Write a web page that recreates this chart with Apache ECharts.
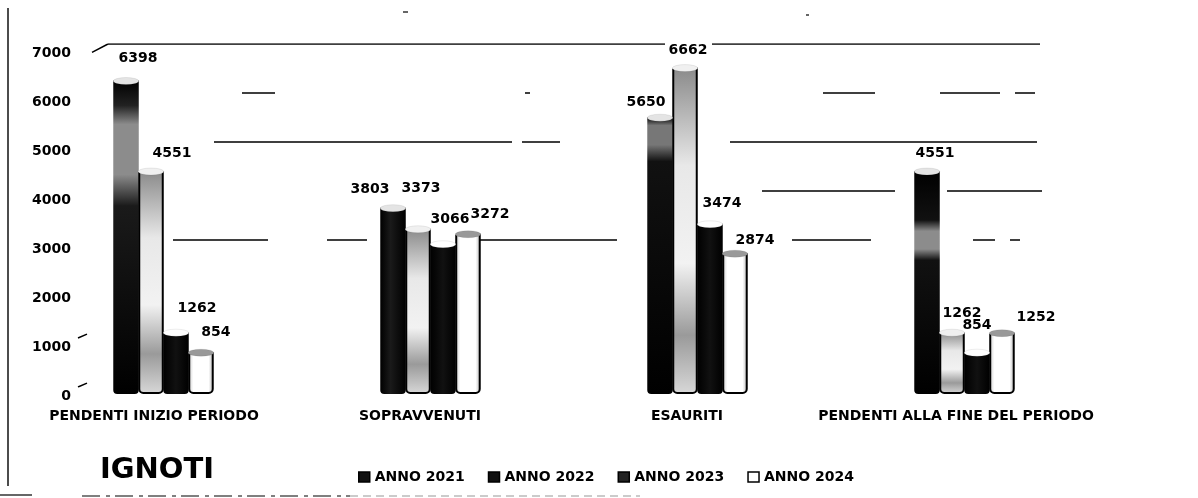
<!DOCTYPE html>
<html><head><meta charset="utf-8">
<style>html,body{margin:0;padding:0;background:#fff}#c{width:1198px;height:498px}</style>
<script src="https://cdn.jsdelivr.net/npm/echarts@6/dist/echarts.min.js"></script>
</head><body><div id="c"></div>
<script>
const categories = ['PENDENTI INIZIO PERIODO','SOPRAVVENUTI','ESAURITI','PENDENTI ALLA FINE DEL PERIODO'];
const seriesNames = ['ANNO 2021','ANNO 2022','ANNO 2023','ANNO 2024'];
const anno2021 = [6398,3803,5650,4551];
const anno2022 = [4551,3373,6662,1262];
const anno2023 = [1262,3066,3474,854];
const anno2024 = [854,3272,2874,1252];
const seriesValues = [anno2021,anno2022,anno2023,anno2024];
const yTicks = [0,1000,2000,3000,4000,5000,6000,7000];

// label nudges per series, per category [dx,dy]
const labelNudges = [
  [[12,-10],[-23,-6],[-14,-3],[8,-6]],
  [[21,-6],[3,-28],[3,-5],[10,-7]],
  [[21,-12],[7,-12],[12,-8],[0,-15]],
  [[15,-8],[22,-7],[20,-1],[34,-3]]
];
const catPad = [19,21,21,17];
// broken wall gridlines: [value, from, to] (second, hidden axis pair)
const wallBits = [
  [7000,108,665],[7000,712,1040],
  [6000,242,275],[6000,525,530],[6000,823,875],[6000,940,1000],[6000,1015,1035],
  [5000,214,512],[5000,522,560],[5000,730,1037],
  [4000,762,895],[4000,947,1042],
  [3000,173,268],[3000,327,367],[3000,480,617],[3000,792,871],[3000,973,995],[3000,1010,1020]
];
const wallDiag = [[92,6830,108,7000],[78,1000,87,1080],[78,0,87,80]];

const wallData = [];
wallBits.forEach(b=>{wallData.push([b[1],b[0]],[b[2],b[0]],[b[2],'-']);});
wallDiag.forEach(d=>{wallData.push([d[0],d[1]],[d[2],d[3]],[d[2],'-']);});

const G = (stops,x2,y2)=>new echarts.graphic.LinearGradient(0,0,x2,y2,stops.map(c=>({offset:c[0],color:c[1]})));
const fills = [
  G([[0,'#000'],[0.4,'#1a1a1a'],[1,'#000']],1,0),
  G([[0,'#8a8a8a'],[0.3,'#e8e8e8'],[0.6,'#f2f2f2'],[0.82,'#9a9a9a'],[1,'#d8d8d8']],0,1),
  G([[0,'#000'],[0.5,'#111'],[1,'#000']],1,0),
  G([[0,'#c8c8c8'],[0.2,'#fff'],[0.8,'#fff'],[1,'#b0b0b0']],1,0)
];
const patches2021 = {
  0:G([[0,'#000'],[0.08,'#222'],[0.14,'#8c8c8c'],[0.3,'#8c8c8c'],[0.4,'#1a1a1a'],[1,'#000']],0,1),
  2:G([[0,'#000'],[0.03,'#777'],[0.1,'#777'],[0.16,'#111'],[1,'#000']],0,1),
  3:G([[0,'#000'],[0.22,'#111'],[0.27,'#8c8c8c'],[0.35,'#8c8c8c'],[0.4,'#111'],[1,'#000']],0,1)
};
const capFill = ['#e4e4e4','#f0f0f0','#fff','#999'];
const legendColor = ['#111','#111','#222','#fff'];

const series = [];
seriesNames.forEach((name,s)=>{
  series.push({
    name,type:'bar',barWidth:25.5,barGap:'-2%',z:3,
    data:seriesValues[s].map((v,c)=>({
      value:v,
      itemStyle:(s===0&&patches2021[c])?{color:patches2021[c]}:undefined,
      label:{offset:labelNudges[s][c]}
    })),
    itemStyle:{color:fills[s],borderColor:'#000',borderWidth:s===1||s===3?2:0,borderRadius:[0,0,4,4]},
    label:{show:true,position:'top',distance:5,color:'#000',fontFamily:'DejaVu Sans',fontWeight:'bold',fontSize:14}
  });
  series.push({
    name,type:'pictorialBar',symbol:'circle',symbolSize:[25.5,7],symbolPosition:'end',symbolOffset:[0,'-50%'],
    barWidth:25.5,barGap:'-2%',z:4,silent:true,
    data:seriesValues[s],
    itemStyle:{color:capFill[s],borderColor:'#000',borderWidth:2}
  });
});
series.push({
  type:'line',xAxisIndex:1,yAxisIndex:1,data:wallData,symbol:'none',silent:true,z:1,connectNulls:false,
  lineStyle:{color:'#000',width:1.5},itemStyle:{color:'#000'}
});

const chart = echarts.init(document.getElementById('c'),null,{renderer:'canvas'});
chart.setOption({
  animation:false,backgroundColor:'#fff',
  title:{text:'IGNOTI',left:95,top:451,textStyle:{fontFamily:'DejaVu Sans',fontWeight:'bold',fontSize:29,color:'#000'}},
  legend:{data:seriesNames.map((n,i)=>({name:n,itemStyle:{color:legendColor[i],borderColor:'#000',borderWidth:1.5}})),
    left:353,top:465,itemWidth:11,itemHeight:10,itemGap:23,icon:'rect',
    textStyle:{fontFamily:'DejaVu Sans',fontWeight:'bold',fontSize:14,color:'#000'}},
  grid:[{left:30,width:1068,top:51,height:343},{left:0,width:1198,top:44,height:343}],
  xAxis:[
    {type:'category',gridIndex:0,data:categories,axisLine:{show:false},axisTick:{show:false},
      axisLabel:{margin:15,interval:0,
        formatter:(v,i)=>'{c'+i+'|'+v+'}',
        rich:Object.fromEntries(catPad.map((p,i)=>['c'+i,{fontFamily:'DejaVu Sans',fontWeight:'bold',fontSize:14,color:'#000',padding:[0,p,0,0]}]))}},
    {type:'value',gridIndex:1,min:0,max:1198,show:false}
  ],
  yAxis:[
    {type:'value',gridIndex:0,min:yTicks[0],max:yTicks[yTicks.length-1],interval:1000,
      axisLine:{show:false},axisTick:{show:false},splitLine:{show:false},
      axisLabel:{margin:-41,formatter:v=>String(v),fontFamily:'DejaVu Sans',fontWeight:'bold',fontSize:14,color:'#000',verticalAlign:'top',lineHeight:4}},
    {type:'value',gridIndex:1,min:0,max:7000,show:false}
  ],
  series,
  graphic:[
    {type:'line',shape:{x1:8,y1:8,x2:8,y2:486},style:{stroke:'#111',lineWidth:1.5}},
    {type:'line',shape:{x1:0,y1:495,x2:32,y2:495},style:{stroke:'#333',lineWidth:1.5}},
    {type:'line',shape:{x1:82,y1:496,x2:350,y2:496},style:{stroke:'#555',lineWidth:1.5,lineDash:[18,6,4,5]}},
    {type:'line',shape:{x1:350,y1:496,x2:640,y2:496},style:{stroke:'#bbb',lineWidth:1.5,lineDash:[8,5]}},
    {type:'line',shape:{x1:403,y1:12,x2:408,y2:12},style:{stroke:'#333',lineWidth:1.5}},
    {type:'line',shape:{x1:806,y1:15,x2:809,y2:15},style:{stroke:'#333',lineWidth:1.5}}
  ]
});
</script></body></html>
